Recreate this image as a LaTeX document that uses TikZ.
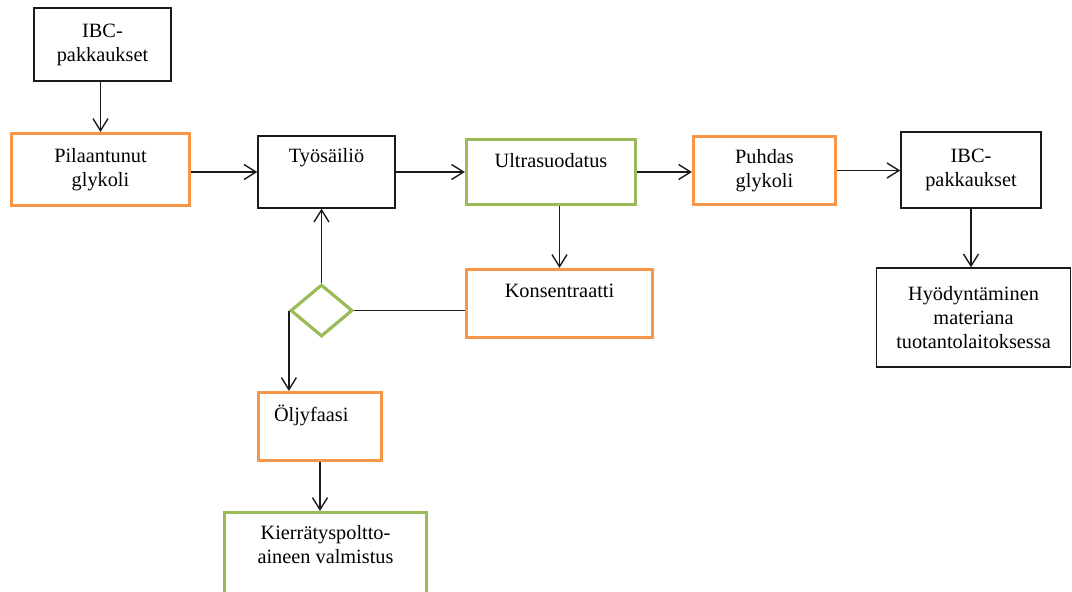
\documentclass[tikz,border=0pt]{standalone}
\usepackage{fontspec}
\setmainfont{Liberation Serif}
\usetikzlibrary{arrows.meta,shapes.geometric}
\definecolor{boxorange}{HTML}{F79646}
\definecolor{boxgreen}{HTML}{9BBB59}
\definecolor{ink}{HTML}{1A1A1A}
\begin{document}
\begin{tikzpicture}[x=1pt,y=-1pt,
  every node/.style={font=\fontsize{20.3}{24}\selectfont, align=center, inner sep=2pt, text=black},
  plainbox/.style={draw=ink, line width=1.4pt, rectangle},
  orangebox/.style={draw=boxorange, line width=3.2pt, rectangle},
  greenbox/.style={draw=boxgreen, line width=3.2pt, rectangle},
  flow/.style={draw=ink, line width=1.4pt, -{Straight Barb[length=12pt,width=15pt,line width=1.4pt]}},
  link/.style={draw=ink, line width=1.4pt},
]
\useasboundingbox (0,0) rectangle (1072,592);
\clip (0,0) rectangle (1072,592);

\node[plainbox, minimum width=137pt, minimum height=73pt] (ibc1) at (102.5,44.5) {IBC-\\pakkaukset};
\node[orangebox, minimum width=178pt, minimum height=72pt] (pil) at (100.5,169.5) {Pilaantunut\\glykoli};
\node[plainbox, minimum width=137pt, minimum height=72pt, text height=14pt, text depth=34pt] (tyo) at (326.5,172) {Työsäiliö};
\node[greenbox, minimum width=169pt, minimum height=65pt, text height=14pt, text depth=22.6pt] (ultra) at (551,172) {Ultrasuodatus};
\node[orangebox, minimum width=142pt, minimum height=68pt] (puh) at (764.5,170.5) {Puhdas\\glykoli};
\node[plainbox, minimum width=140pt, minimum height=76pt] (ibc2) at (971,170) {IBC-\\pakkaukset};
\node[plainbox, minimum width=194pt, minimum height=99pt] (hyo) at (973.5,317.5) {Hyödyntäminen\\materiana\\tuotantolaitoksessa};
\node[orangebox, minimum width=186pt, minimum height=68pt, text height=14pt, text depth=25.6pt] (kons) at (559.5,303.5) {Konsentraatti};
\node[diamond, draw=boxgreen, line width=3.2pt, minimum width=62pt, minimum height=52pt, inner sep=0pt] (dia) at (321.5,310.5) {};
\node[orangebox, minimum height=68pt, inner xsep=15.5pt, text width=92pt, align=left, text height=14pt, text depth=23.6pt] (olj) at (320,426.5) {Öljyfaasi};
\node[greenbox, minimum width=202pt, minimum height=82pt, text height=24pt, text depth=4pt] (kier) at (325.5,553.5) {Kierrätyspoltto-\\aineen valmistus};

\draw[flow] (pil.north |- ibc1.south) -- (pil.north);
\draw[flow] (tyo.west -| pil.east) -- (tyo.west);
\draw[flow] (tyo.east |- ultra.west) -- (ultra.west);
\draw[flow] (ultra.east) -- (ultra.east -| puh.west);
\draw[flow] (puh.east) -- (puh.east -| ibc2.west);
\draw[flow] (ibc2.south) -- (ibc2.south |- hyo.north);
\draw[flow] (ultra.south -| kons.north) -- (kons.north);
\draw[link] (dia.east) -- (dia.east -| kons.west);
\draw[flow] (dia.north) -- (dia.north |- tyo.south);
\draw[flow] (dia.west) -- (dia.west |- olj.north);
\draw[flow] (olj.south) -- (olj.south |- kier.north);
\end{tikzpicture}
\end{document}
